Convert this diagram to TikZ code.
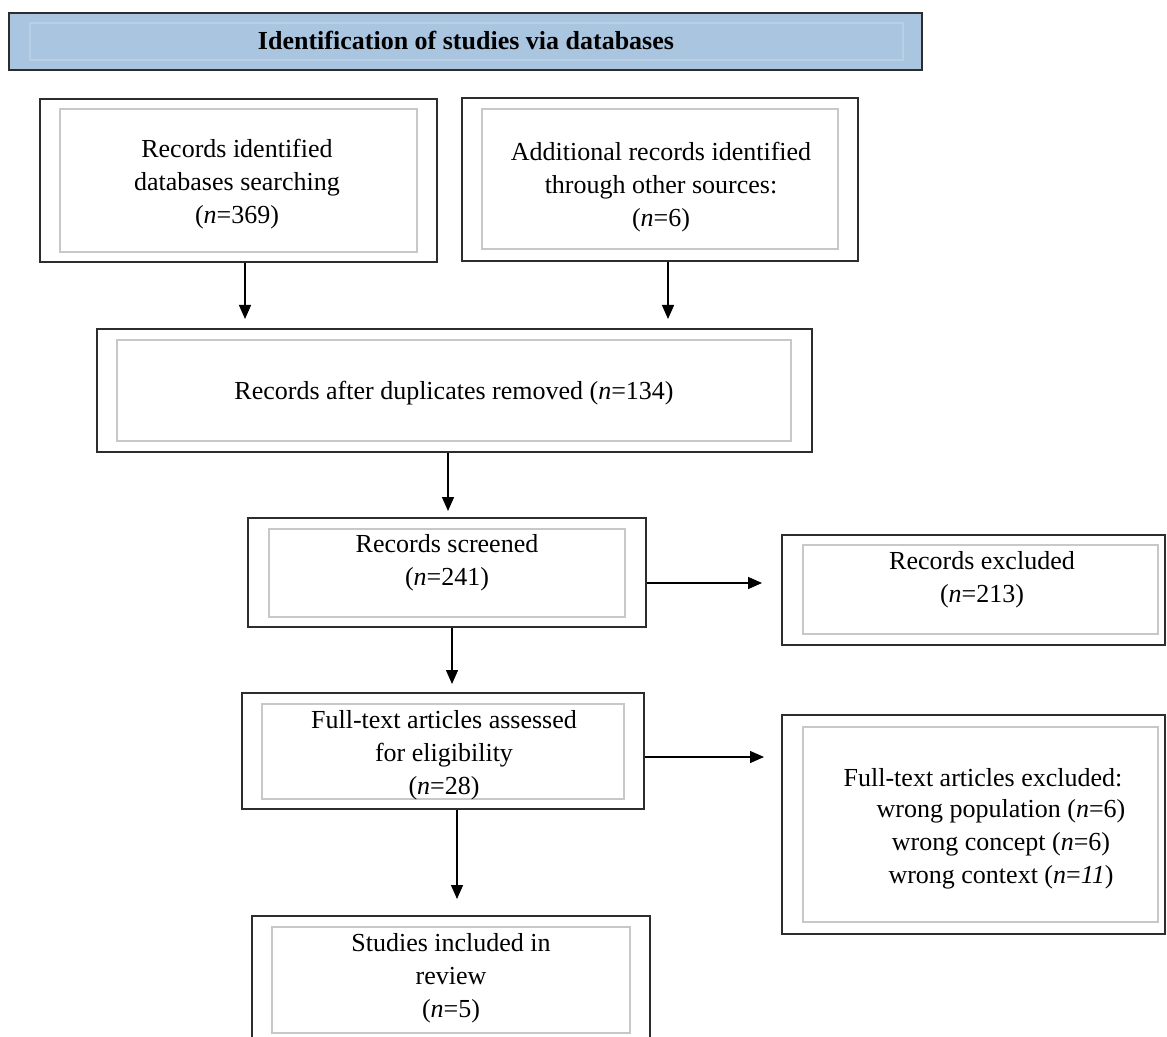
\documentclass[tikz,border=0pt]{standalone}
\usepackage{fontspec}
\setmainfont{Liberation Serif}
\usetikzlibrary{arrows.meta,fit}
\definecolor{titlefill}{RGB}{170,197,223}
\definecolor{titleinner}{RGB}{184,207,229}
\definecolor{boxline}{RGB}{45,45,45}
\definecolor{innerline}{RGB}{200,200,200}
\begin{document}
\begin{tikzpicture}[x=0.5pt,y=-0.5pt,
  outerbox/.style={draw=boxline,line width=1pt,inner sep=0pt},
  titlebox/.style={draw=boxline,line width=1pt,fill=titlefill,inner sep=0pt},
  innerbox/.style={draw=innerline,line width=0.6pt},
  txt/.style={font=\fontsize{13}{16.5}\selectfont,align=center,inner sep=0pt},
  ttl/.style={font=\fontsize{13}{16}\selectfont\bfseries,inner sep=0pt},
  arr/.style={draw=black,line width=0.7pt,-{Triangle[width=6pt,length=7pt]}}]
\useasboundingbox (0,0) rectangle (1167,1037);

% helper coordinates for connector positions
\coordinate (x245) at (245,0);
\coordinate (x668) at (668,0);
\coordinate (x448) at (448,0);
\coordinate (x452) at (452,0);
\coordinate (x457) at (457,0);
\coordinate (y583) at (0,583);
\coordinate (y757) at (0,757);

% title bar
\node[titlebox,fit={(9,13)(922,70)}] (title) {};
\draw[titleinner,line width=0.6pt] (30,23) rectangle (903,60);
\node[ttl] (titlet) at (466,41) {Identification of studies via databases};

% box 1
\node[outerbox,fit={(40,99)(437,262)}] (b1) {};
\draw[innerbox] (60,109) rectangle (417,252);
\node[txt] (b1t) at (237,184) {Records identified\\databases searching\\(\textit{n}=369)};

% box 2
\node[outerbox,fit={(462,98)(858,261)}] (b2) {};
\draw[innerbox] (482,109) rectangle (838,249);
\node[txt] (b2t) at (661,187) {Additional records identified\\through other sources:\\(\textit{n}=6)};

% box 3
\node[outerbox,fit={(97,329)(812,452)}] (b3) {};
\draw[innerbox] (117,340) rectangle (791,441);
\node[txt] (b3t) at (454,393) {Records after duplicates removed (\textit{n}=134)};

% box 4 screened
\node[outerbox,fit={(248,518)(646,627)}] (b4) {};
\draw[innerbox] (269,529) rectangle (625,617);
\node[txt] (b4t) at (447,563) {Records screened\\(\textit{n}=241)};

% box 5 records excluded
\node[outerbox,fit={(782,535)(1165,645)}] (b5) {};
\draw[innerbox] (803,545) rectangle (1158,634);
\node[txt] (b5t) at (982,580) {Records excluded\\(\textit{n}=213)};

% box 6 full-text assessed
\node[outerbox,fit={(242,693)(644,809)}] (b6) {};
\draw[innerbox] (262,704) rectangle (624,799);
\node[txt] (b6t) at (444,755) {Full-text articles assessed\\for eligibility\\(\textit{n}=28)};

% box 7 full-text excluded
\node[outerbox,fit={(782,715)(1165,934)}] (b7) {};
\draw[innerbox] (803,727) rectangle (1158,922);
\node[txt] (b7t1) at (983,778) {Full-text articles excluded:};
\node[txt] (b7t2) at (1001,844) {wrong population (\textit{n}=6)\\wrong concept (\textit{n}=6)\\wrong context (\textit{n}=\textit{11})};

% box 8 studies included
\node[outerbox,fit={(252,916)(650,1046)}] (b8) {};
\draw[innerbox] (272,927) rectangle (630,1033);
\node[txt] (b8t) at (451,978) {Studies included in\\review\\(\textit{n}=5)};

% connectors
\draw[arr,shorten >=4.5pt] (b1.south -| x245) -- (b3.north -| x245);
\draw[arr,shorten >=4.5pt] (b2.south -| x668) -- (b3.north -| x668);
\draw[arr,shorten >=3pt] (b3.south -| x448) -- (b4.north -| x448);
\draw[arr,shorten >=4pt] (b4.south -| x452) -- (b6.north -| x452);
\draw[arr,shorten >=8pt] (b6.south -| x457) -- (b8.north -| x457);
\draw[arr,shorten >=9.5pt] (b4.east |- y583) -- (b5.west |- y583);
\draw[arr,shorten >=8.5pt] (b6.east |- y757) -- (b7.west |- y757);
\end{tikzpicture}
\end{document}
